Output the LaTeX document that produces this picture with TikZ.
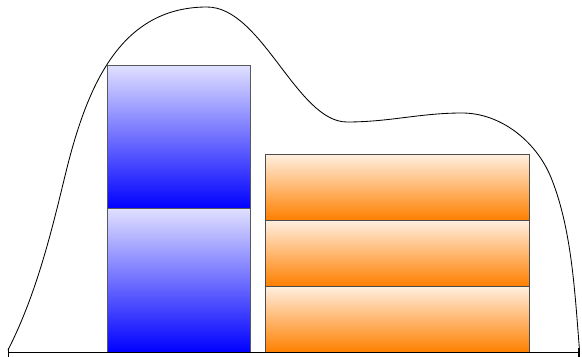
\documentclass[tikz,border=0pt]{standalone}
\usetikzlibrary{arrows.meta}
\begin{document}
\begin{tikzpicture}[x=0.05cm,y=-0.05cm,
  bluebox/.style={draw=black!65, line width=0.9pt, inner sep=0pt, outer sep=0pt,
    minimum width=7.15cm, minimum height=7.2cm, top color=blue!12, bottom color=blue},
  orangebox/.style={draw=black!70, line width=0.9pt, inner sep=0pt, outer sep=0pt,
    minimum width=13.2cm, minimum height=3.3cm, top color=orange!12, bottom color=orange},
  density/.style={line width=1.2pt, black},
  axisline/.style={line width=1.3pt, {Bar[width=13pt,line width=1.5pt]}-{Bar[width=13pt,line width=1.5pt]}}]
  \useasboundingbox (0,0) rectangle (582,357);

  % stacked blocks
  \node[bluebox] (b1) at (178.5,137) {};
  \node[bluebox] (b2) at (178.5,280.5) {};
  \node[orangebox] (o1) at (397,187) {};
  \node[orangebox] (o2) at (397,253) {};
  \node[orangebox] (o3) at (397,319) {};

  % envelope curve
  \draw[density] (8,350)
    .. controls (35,297) and (50,238) .. (64,180)
    .. controls (85,92) and (117,7) .. (207,7)
    .. controls (262,7) and (297,122) .. (347,122)
    .. controls (390,122) and (420,113) .. (462,113)
    .. controls (502,113) and (538,143) .. (552,180)
    .. controls (572,231) and (575,295) .. (579.5,350);

  % baseline
  \coordinate (l) at (8,352.5);
  \coordinate (r) at (579.5,352.5);
  \draw[axisline] (l) -- (r);
\end{tikzpicture}
\end{document}
